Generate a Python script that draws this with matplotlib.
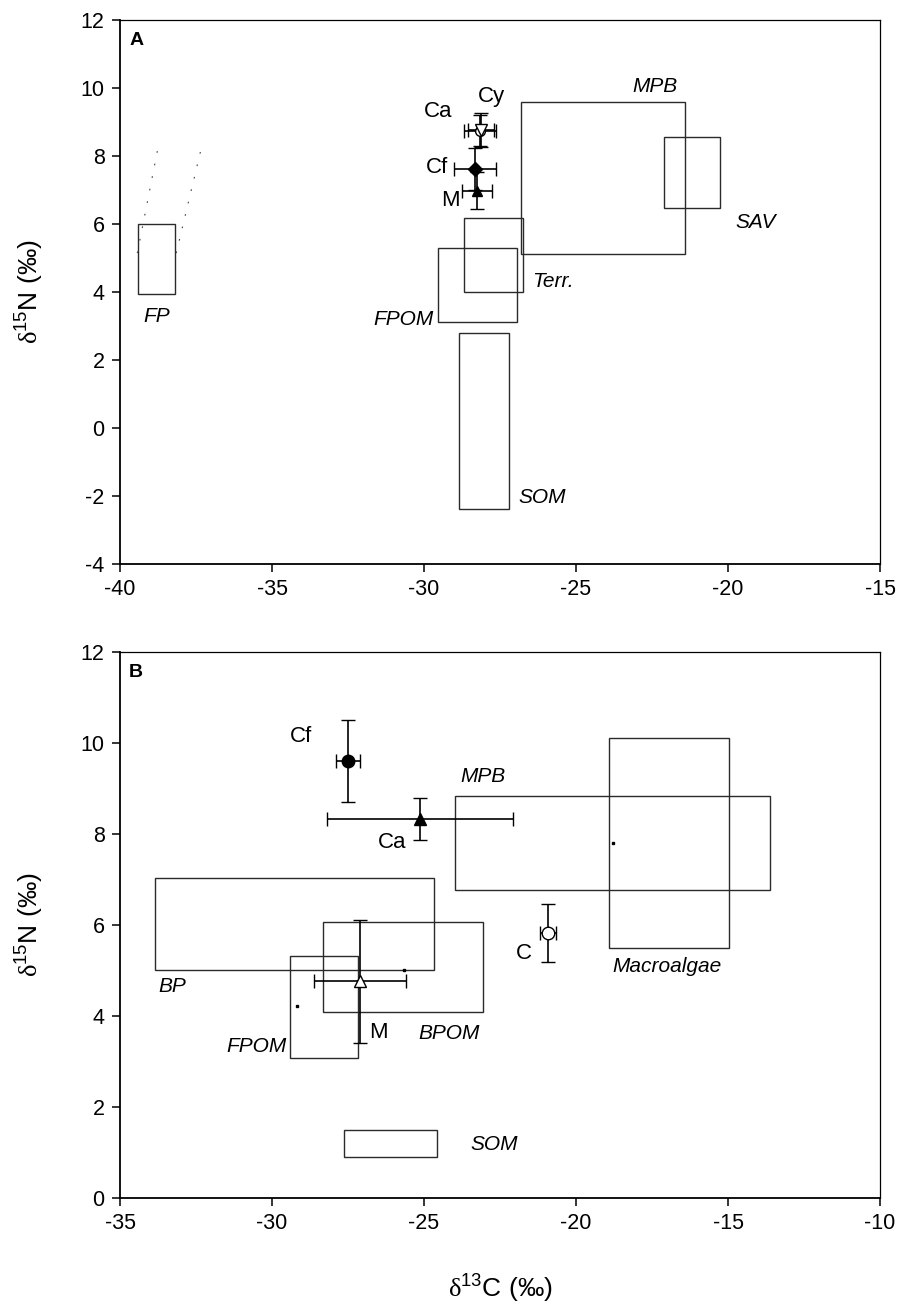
import matplotlib.pyplot as plt
from matplotlib.patches import Rectangle

plt.rcParams['font.family'] = ['Liberation Sans', 'DejaVu Sans']
plt.rcParams['axes.unicode_minus'] = False
plt.rcParams['mathtext.fontset'] = 'custom'
plt.rcParams['mathtext.rm'] = 'Liberation Serif'
plt.rcParams['mathtext.sf'] = 'Liberation Sans'

# ---- panel A: sources (boxes = mean +/- SD ranges) ----
a_src_names = ['FP', 'FPOM', 'Terr.', 'SOM', 'MPB', 'SAV']
a_src_c_lo = [-39.4, -29.55, -28.7, -28.85, -26.8, -22.1]
a_src_c_hi = [-38.2, -26.95, -26.75, -27.2, -21.4, -20.25]
a_src_n_lo = [3.93, 3.12, 3.99, -2.38, 5.10, 6.47]
a_src_n_hi = [5.99, 5.29, 6.16, 2.80, 9.59, 8.56]

# faint dotted guides next to FP
a_guide_c0 = [-39.43, -38.15]
a_guide_c1 = [-38.74, -37.31]
a_guide_n0 = [5.14, 5.14]
a_guide_n1 = [8.29, 8.29]

# ---- panel A: consumers ----
a_con_names = ['Ca', 'Cy', 'Cf', 'M']
a_con_c = [-28.16, -28.13, -28.32, -28.25]
a_con_n = [8.74, 8.76, 7.61, 6.98]
a_con_cerr = [0.53, 0.42, 0.69, 0.50]
a_con_nerr = [0.45, 0.51, 0.62, 0.55]

# ---- panel B: sources ----
b_src_names = ['BP', 'FPOM', 'BPOM', 'SOM', 'MPB', 'Macroalgae']
b_src_c_lo = [-33.85, -29.4, -28.33, -27.62, -23.99, -18.92]
b_src_c_hi = [-24.66, -27.16, -23.07, -24.57, -13.62, -14.98]
b_src_n_lo = [5.00, 3.08, 4.08, 0.90, 6.76, 5.48]
b_src_n_hi = [7.03, 5.32, 6.07, 1.49, 8.83, 10.10]

# stray points inside panel B
b_dot_c = [-18.79, -25.66, -29.18]
b_dot_n = [7.79, 5.00, 4.21]

# ---- panel B: consumers ----
b_con_names = ['Cf', 'Ca', 'M', 'C']
b_con_c = [-27.51, -25.13, -27.11, -20.93]
b_con_n = [9.60, 8.32, 4.76, 5.82]
b_con_cerr = [0.40, 3.07, 1.51, 0.26]
b_con_nerr = [0.90, 0.46, 1.35, 0.63]

# marker styles and label placement (x, y, ha)
a_con_style = [('o', 'white', 7), ('v', 'white', 8), ('D', 'black', 7), ('^', 'black', 7)]
a_con_lab = [(-29.08, 9.30, 'right'), (-28.22, 9.76, 'left'),
             (-29.2, 7.66, 'right'), (-28.82, 6.69, 'right')]
a_src_lab = [(-38.78, 3.26, 'center'), (-29.7, 3.18, 'right'), (-26.46, 4.30, 'left'),
             (-26.9, -2.06, 'left'), (-22.4, 10.03, 'center'), (-19.77, 6.03, 'left')]

b_con_style = [('o', 'black', 9), ('^', 'black', 9), ('^', 'white', 9), ('o', 'white', 9)]
b_con_lab = [(-28.68, 10.13, 'right'), (-25.57, 7.80, 'right'),
             (-26.8, 3.63, 'left'), (-21.44, 5.37, 'right')]
b_src_lab = [(-33.74, 4.64, 'left'), (-29.51, 3.33, 'right'), (-25.19, 3.61, 'left'),
             (-23.49, 1.16, 'left'), (-23.82, 9.26, 'left'), (-18.81, 5.08, 'left')]


def draw_boxes(ax, lo_c, hi_c, lo_n, hi_n):
    for c0, c1, n0, n1 in zip(lo_c, hi_c, lo_n, hi_n):
        ax.add_patch(Rectangle((c0, n0), c1 - c0, n1 - n0, fill=False,
                               edgecolor='#2a2a2a', linewidth=1.0, zorder=2))


def draw_consumers(ax, cs, ns, cerr, nerr, styles):
    for c, n, ce, ne, (m, fc, ms) in zip(cs, ns, cerr, nerr, styles):
        ax.errorbar(c, n, xerr=ce, yerr=ne, fmt=m, mfc=fc, mec='black', ms=ms,
                    mew=1.0, ecolor='black', elinewidth=1.2, capsize=5,
                    capthick=1.2, zorder=4)


def label_all(ax, names, labs, italic):
    for name, (x, y, ha) in zip(names, labs):
        ax.text(x, y, name, ha=ha, va='center',
                fontsize=15 if italic else 16,
                style='italic' if italic else 'normal', zorder=5)


def style_axes(ax, letter):
    for side in ['left', 'bottom']:
        ax.spines[side].set_linewidth(1.3)
    for side in ['top', 'right']:
        ax.spines[side].set_linewidth(0.9)
    ax.tick_params(direction='out', length=6, width=1.1, labelsize=15.5,
                   top=False, right=False, pad=5)
    ax.text(0.012, 0.978, letter, transform=ax.transAxes, ha='left', va='top',
            fontsize=14, fontweight='bold')
    ax.set_ylabel(r'$\mathrm{\delta}^{\mathsf{15}}$N (‰)', fontsize=19)
    ax.yaxis.set_label_coords(-0.099, 0.5)


fig = plt.figure(figsize=(8.99, 13.10), dpi=100)
ax_a = fig.add_axes([0.1335, 0.5698, 0.8454, 0.4149])
ax_b = fig.add_axes([0.1335, 0.0857, 0.8454, 0.4168])

# panel A
draw_boxes(ax_a, a_src_c_lo, a_src_c_hi, a_src_n_lo, a_src_n_hi)
for c0, c1, n0, n1 in zip(a_guide_c0, a_guide_c1, a_guide_n0, a_guide_n1):
    ax_a.plot([c0, c1], [n0, n1], color='#444444', linewidth=0.8,
              linestyle=(0, (1.5, 10)), zorder=2)
draw_consumers(ax_a, a_con_c, a_con_n, a_con_cerr, a_con_nerr, a_con_style)
label_all(ax_a, a_src_names, a_src_lab, True)
label_all(ax_a, a_con_names, a_con_lab, False)
ax_a.set_xlim(-40, -15)
ax_a.set_ylim(-4, 12)
ax_a.set_xticks(range(-40, -14, 5))
ax_a.set_yticks(range(-4, 13, 2))
style_axes(ax_a, 'A')

# panel B
draw_boxes(ax_b, b_src_c_lo, b_src_c_hi, b_src_n_lo, b_src_n_hi)
ax_b.plot(b_dot_c, b_dot_n, linestyle='none', marker='s', ms=1.6,
          color='black', zorder=3)
draw_consumers(ax_b, b_con_c, b_con_n, b_con_cerr, b_con_nerr, b_con_style)
label_all(ax_b, b_src_names, b_src_lab, True)
label_all(ax_b, b_con_names, b_con_lab, False)
ax_b.set_xlim(-35, -10)
ax_b.set_ylim(0, 12)
ax_b.set_xticks(range(-35, -9, 5))
ax_b.set_yticks(range(0, 13, 2))
style_axes(ax_b, 'B')
ax_b.set_xlabel(r'$\mathrm{\delta}^{\mathsf{13}}$C (‰)', fontsize=19, va='top')
ax_b.xaxis.set_label_coords(0.5, -0.135)

fig.savefig('out.png', dpi=100)
